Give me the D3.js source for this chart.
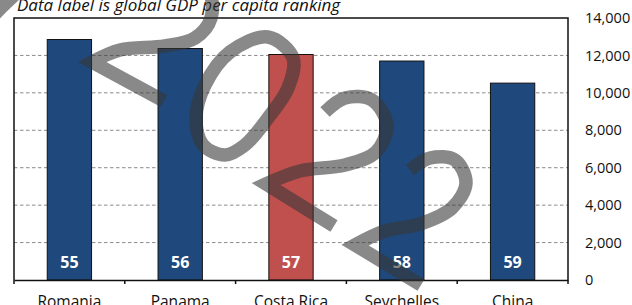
<!DOCTYPE html>
<html><head><meta charset="utf-8">
<script src="https://cdn.jsdelivr.net/npm/d3@7"></script>
<style>body{margin:0;background:#fff}svg{display:block}text{font-family:"Open Sans",sans-serif}</style>
</head><body><div id="c"></div>
<script>
const categories = ["Romania","Panama","Costa Rica","Seychelles","China"];
const gdpValues = [12850,12370,12050,11700,10520];
const rankLabels = ["55","56","57","58","59"];
const highlight = ["Costa Rica"];
const yTicks = [0,2000,4000,6000,8000,10000,12000,14000];
const title = "Data label is global GDP per capita ranking";

const W=632,H=305;
const m={left:14,right:64,top:18,bottom:25};
const svg=d3.select("#c").append("svg").attr("width",W).attr("height",H);
const x=d3.scaleBand().domain(categories).range([m.left,W-m.right]).padding(0);
const y=d3.scaleLinear().domain([0,14000]).range([H-m.bottom,m.top]);

// grid
svg.append("g").selectAll("line").data(yTicks.filter(d=>d>0&&d<14000)).join("line")
 .attr("x1",m.left).attr("x2",W-m.right).attr("y1",d=>y(d)).attr("y2",d=>y(d))
 .attr("stroke","#8c8c8c").attr("stroke-width",1).attr("stroke-dasharray","3.5,2.5");

// bars
const bw=x.bandwidth()*0.4;
svg.append("g").selectAll("rect").data(categories).join("rect")
 .attr("x",d=>x(d)+(x.bandwidth()-bw)/2).attr("width",bw)
 .attr("y",(d,i)=>y(gdpValues[i])).attr("height",(d,i)=>y(0)-y(gdpValues[i]))
 .attr("fill",d=>highlight.includes(d)?"#C0504D":"#1F497D")
 .attr("stroke","#111").attr("stroke-width",1);

svg.append("g").selectAll("text").data(categories).join("text")
 .attr("x",d=>x(d)+x.bandwidth()/2).attr("y",y(0)-12)
 .attr("text-anchor","middle").attr("fill","#fff").attr("font-weight","bold")
 .attr("font-size","16px").text((d,i)=>rankLabels[i]);

// frame
svg.append("path").attr("d",`M${m.left},${y(0)}V${m.top}H${W-m.right}V${y(0)}`)
 .attr("fill","none").attr("stroke","#111").attr("stroke-width",1.5);

// right axis
const ya=svg.append("g").attr("transform",`translate(${W-m.right},0)`)
 .call(d3.axisRight(y).tickValues(yTicks).tickSize(0).tickPadding(17).tickFormat(d3.format(",")));
ya.select(".domain").remove();
ya.selectAll("text").attr("font-size","14.5px").attr("fill","#111").attr("font-family","Open Sans");

// bottom axis
const xa=svg.append("g").attr("transform",`translate(0,${y(0)})`)
 .call(d3.axisBottom(x).tickSize(0).tickPadding(16));
xa.select(".domain").attr("stroke","#111").attr("stroke-width",1.5);
xa.selectAll("text").attr("font-size","15.5px").attr("fill","#111").attr("font-family","Open Sans");
const bounds=categories.map(c=>x(c)).concat([x.range()[1]]);
xa.append("g").selectAll("line").data(bounds).join("line")
 .attr("x1",d=>d).attr("x2",d=>d).attr("y1",0).attr("y2",4).attr("stroke","#111").attr("stroke-width",1.5);

// title
svg.append("text").attr("x",17).attr("y",11).attr("font-style","italic")
 .attr("font-size","17px").attr("fill","#111").text(title);

// watermark "2022"
const wm=svg.append("g").attr("opacity",0.585).attr("fill","none")
 .attr("stroke","#373737").attr("stroke-width",13.5).attr("stroke-linejoin","miter").attr("stroke-linecap","butt");
const cr=d3.line().curve(d3.curveCatmullRom.alpha(0.5));
const crc=d3.line().curve(d3.curveCatmullRomClosed.alpha(0.5));
const two1=[[-15,25],[8,1],[60,-40],[160,-45],[208,-10],[211,18],[195,38],[165,46],[120,50],[92,62]];
const two3=[[325,112],[345,98],[372,100],[387,125],[376,152],[345,165],[300,171],[266,184]];
const two4=[[410,170],[430,158],[455,160],[466,183],[452,208],[420,224],[385,231],[355,245]];
const zero=[[268,37],[293,58],[288,88],[268,118],[245,145],[225,155],[203,145],[196,118],[205,85],[230,52]];
wm.append("path").attr("d",cr(two1)+"L164,101");
wm.append("path").attr("d",crc(zero));
wm.append("path").attr("d",cr(two3)+"L334,226");
wm.append("path").attr("d",cr(two4)+"L421,285");
</script></body></html>
